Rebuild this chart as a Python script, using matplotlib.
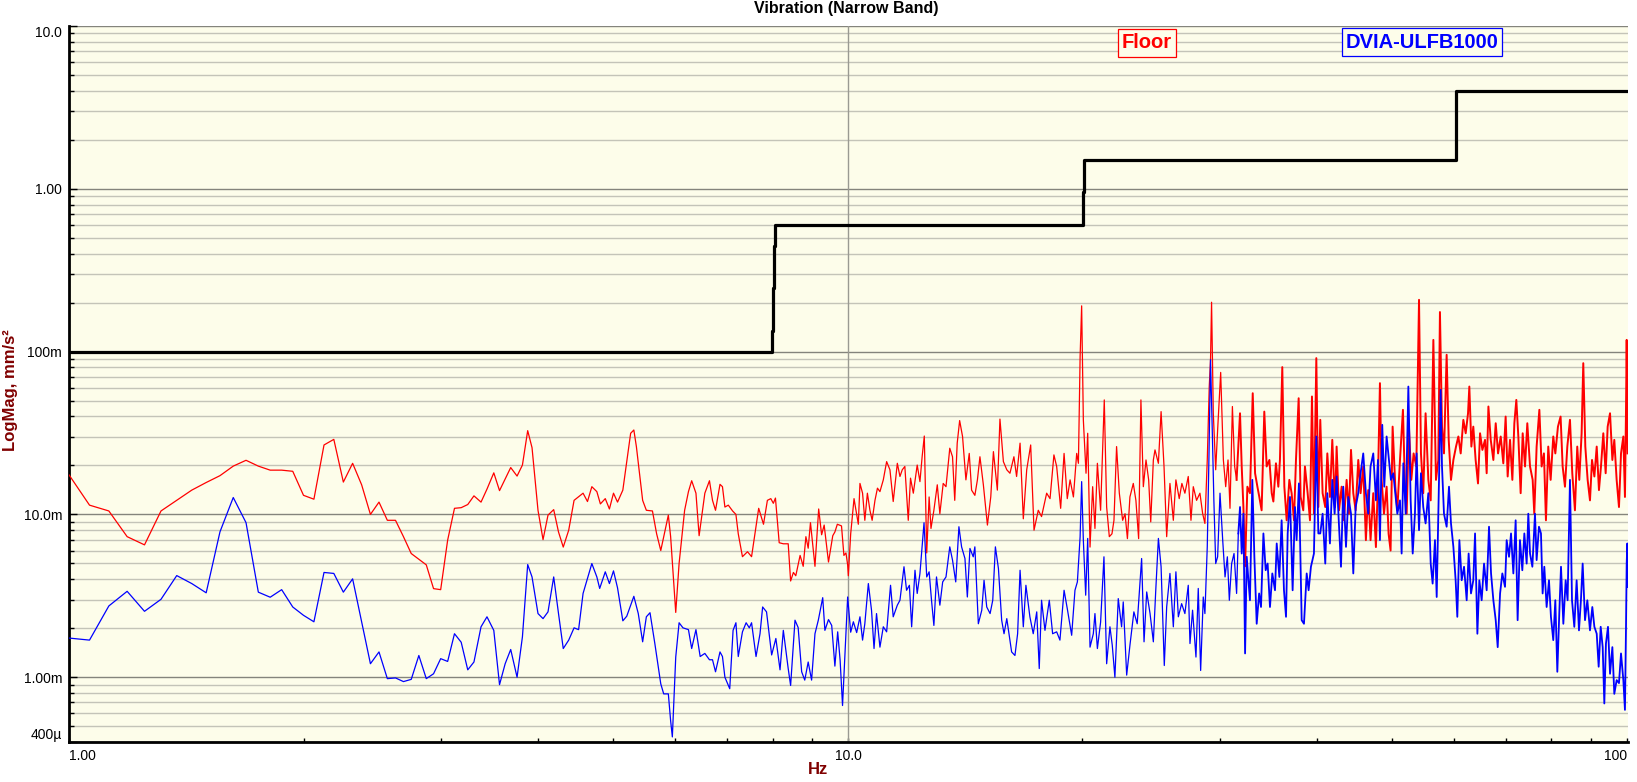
import numpy as np
import matplotlib
matplotlib.use('Agg')
from matplotlib import pyplot as plt
from matplotlib.ticker import FixedLocator, FixedFormatter, LogLocator, NullFormatter

plt.rcParams['font.family'] = ['Liberation Sans', 'DejaVu Sans']

# --- values (Hz, mm/s^2) ---
# Floor, 1..10 Hz
floor_lo = [
    (1.0, 0.0175), (1.0625, 0.0114), (1.125, 0.0105), (1.1875, 0.0073), (1.25, 0.0065),
    (1.3125, 0.0105), (1.375, 0.0122), (1.4375, 0.0141), (1.5, 0.0157), (1.5625, 0.0173),
    (1.625, 0.0198), (1.6875, 0.0215), (1.75, 0.0198), (1.8125, 0.0187), (1.875, 0.0187),
    (1.9375, 0.0184), (2.0, 0.0131), (2.0625, 0.0124), (2.125, 0.0267), (2.1875, 0.0289),
    (2.25, 0.0158), (2.3125, 0.0206), (2.375, 0.0152), (2.4375, 0.0100), (2.5, 0.0119),
    (2.5625, 0.0092), (2.625, 0.0092), (2.6875, 0.0073), (2.75, 0.00575), (2.8125, 0.0053),
    (2.875, 0.0049), (2.9375, 0.0035), (3.0, 0.00345), (3.0625, 0.00695), (3.125, 0.0109),
    (3.1875, 0.0110), (3.25, 0.0115),
    (3.31, 0.0130), (3.38, 0.0119), (3.44, 0.0143), (3.51, 0.0180), (3.57, 0.0140),
    (3.69, 0.0194), (3.76, 0.0172), (3.82, 0.0201), (3.88, 0.0327), (3.93, 0.0257),
    (4.00, 0.0106), (4.06, 0.0070), (4.12, 0.0099), (4.19, 0.0107), (4.25, 0.0078),
    (4.31, 0.0063), (4.38, 0.0080), (4.45, 0.0122), (4.57, 0.0135), (4.63, 0.0120),
    (4.69, 0.0148), (4.76, 0.0138), (4.81, 0.0116), (4.88, 0.0125), (4.94, 0.0108),
    (5.00, 0.0135), (5.06, 0.0119), (5.14, 0.0141), (5.26, 0.0315), (5.31, 0.0330),
    (5.35, 0.0261), (5.45, 0.0122), (5.51, 0.0106), (5.61, 0.0105), (5.68, 0.0076),
    (5.75, 0.0060), (5.88, 0.0099), (5.92, 0.0073), (6.01, 0.0025), (6.07, 0.0050),
    (6.17, 0.0106), (6.24, 0.0138), (6.30, 0.0161), (6.38, 0.0135), (6.44, 0.0074),
    (6.55, 0.0135), (6.64, 0.0161), (6.70, 0.0122), (6.76, 0.0106), (6.85, 0.0153),
    (6.90, 0.0148), (6.95, 0.0111), (7.02, 0.0114), (7.11, 0.0105), (7.18, 0.0100),
    (7.23, 0.0076), (7.32, 0.0055), (7.43, 0.0059), (7.52, 0.0055), (7.68, 0.0109),
    (7.79, 0.0087), (7.88, 0.0122), (7.96, 0.0125), (8.02, 0.0117), (8.07, 0.0126),
    (8.16, 0.0067), (8.26, 0.0066), (8.38, 0.0066), (8.44, 0.0039), (8.51, 0.0044),
    (8.57, 0.0042), (8.68, 0.0056), (8.76, 0.0048), (8.83, 0.0073), (8.89, 0.0062),
    (8.95, 0.0089), (9.07, 0.0048), (9.17, 0.0108), (9.25, 0.0075), (9.32, 0.0086),
    (9.44, 0.0051), (9.56, 0.0074), (9.62, 0.0078), (9.69, 0.0087), (9.81, 0.0085),
    (9.88, 0.0056), (9.94, 0.0058), (9.99, 0.0049), (10.01, 0.0042), (10.08, 0.0076),
    (10.18, 0.0125), (10.31, 0.0087),
]

# Floor, 10..32 Hz
floor_mid = [
    (10.36, 0.0155), (10.44, 0.0135), (10.51, 0.0092), (10.59, 0.0135), (10.67, 0.0106),
    (10.74, 0.0092), (10.83, 0.0122), (10.91, 0.0145), (10.99, 0.0138), (11.10, 0.0163),
    (11.21, 0.0211), (11.32, 0.0188), (11.43, 0.0120), (11.57, 0.0206), (11.66, 0.0171),
    (11.74, 0.0188), (11.83, 0.0197), (11.95, 0.0092), (12.03, 0.0167), (12.13, 0.0135),
    (12.27, 0.0201), (12.37, 0.0159), (12.45, 0.0226), (12.53, 0.0303), (12.62, 0.0058),
    (12.71, 0.0128), (12.78, 0.0082), (12.89, 0.0106), (13.02, 0.0152), (13.12, 0.0101),
    (13.25, 0.0155), (13.36, 0.0148), (13.51, 0.0255), (13.62, 0.0226), (13.71, 0.0122),
    (13.81, 0.0274), (13.91, 0.0377), (14.03, 0.0301), (14.17, 0.0163), (14.31, 0.0237),
    (14.41, 0.0141), (14.55, 0.0131), (14.66, 0.0163), (14.77, 0.0226), (14.92, 0.0152),
    (15.10, 0.0086), (15.25, 0.0128), (15.37, 0.0243), (15.55, 0.0141), (15.67, 0.0385),
    (15.83, 0.0211), (15.99, 0.0188), (16.14, 0.0179), (16.33, 0.0226), (16.46, 0.0171),
    (16.63, 0.0274), (16.79, 0.0094), (16.96, 0.0188), (17.16, 0.0267), (17.33, 0.0080),
    (17.55, 0.0106), (17.72, 0.0097), (17.99, 0.0135), (18.17, 0.0125), (18.38, 0.0232),
    (18.53, 0.0197), (18.75, 0.0109), (18.94, 0.0237), (19.12, 0.0125), (19.28, 0.0163),
    (19.47, 0.0128), (19.66, 0.0237), (19.76, 0.0206), (19.86, 0.0933), (19.95, 0.191),
    (20.05, 0.0381), (20.21, 0.0179), (20.31, 0.0315), (20.45, 0.0063), (20.61, 0.0148),
    (20.75, 0.0082), (20.90, 0.0206), (21.10, 0.0106), (21.33, 0.0505), (21.48, 0.0111),
    (21.65, 0.0073), (21.82, 0.0076), (21.95, 0.0092), (22.12, 0.0261), (22.30, 0.0135),
    (22.52, 0.0092), (22.68, 0.0101), (22.84, 0.0071), (23.01, 0.0128), (23.24, 0.0155),
    (23.42, 0.0122), (23.61, 0.0071), (23.77, 0.0505), (23.94, 0.0148), (24.13, 0.0216),
    (24.32, 0.0163), (24.47, 0.0090), (24.66, 0.0216), (24.78, 0.0249), (25.03, 0.0206),
    (25.23, 0.0428), (25.45, 0.0197), (25.65, 0.0073), (25.90, 0.0155), (26.16, 0.0092),
    (26.36, 0.0163), (26.62, 0.0125), (26.83, 0.0155), (27.07, 0.0135), (27.34, 0.0171),
    (27.56, 0.0092), (27.75, 0.0148), (28.02, 0.0122), (28.30, 0.0135), (28.53, 0.0101),
    (28.72, 0.0088), (28.92, 0.0216), (29.09, 0.0610), (29.20, 0.0891), (29.29, 0.201),
    (29.44, 0.0418), (29.65, 0.0188), (29.82, 0.0330), (30.09, 0.0745), (30.33, 0.0216),
    (30.54, 0.0148), (30.75, 0.0216), (30.93, 0.0109), (31.15, 0.0460), (31.36, 0.0197),
    (31.54, 0.0163),
]

# Floor, 32..100 Hz
floor_hi = [
    (31.86, 0.0418), (32.02, 0.0197), (32.18, 0.0111), (32.34, 0.0048), (32.56, 0.0148),
    (32.81, 0.0135), (33.08, 0.0555), (33.31, 0.0179), (33.54, 0.0148), (33.73, 0.0128),
    (33.96, 0.0106), (34.23, 0.0428), (34.47, 0.0197), (34.75, 0.0216), (34.99, 0.0135),
    (35.16, 0.0120), (35.43, 0.0206), (35.68, 0.0148), (35.85, 0.0216), (36.10, 0.0803),
    (36.32, 0.0148), (36.57, 0.0092), (36.86, 0.0163), (37.11, 0.0135), (37.37, 0.0092),
    (37.59, 0.0216), (37.89, 0.0517), (38.11, 0.0128), (38.41, 0.0106), (38.60, 0.0197),
    (38.91, 0.0135), (39.18, 0.0092), (39.41, 0.0530), (39.64, 0.0101), (39.92, 0.0912),
    (40.16, 0.0111), (40.39, 0.0381), (40.67, 0.0135), (40.99, 0.0111), (41.24, 0.0237),
    (41.56, 0.0128), (41.85, 0.0287), (42.19, 0.0111), (42.39, 0.0261), (42.69, 0.0106),
    (43.02, 0.0148), (43.32, 0.0092), (43.66, 0.0163), (43.96, 0.0101), (44.23, 0.0249),
    (44.53, 0.0135), (44.84, 0.0106), (45.19, 0.0216), (45.50, 0.0135), (45.86, 0.0197),
    (46.22, 0.00695), (46.54, 0.0141), (46.86, 0.00695), (47.24, 0.0135), (47.61, 0.0063),
    (47.90, 0.0163), (48.18, 0.0640), (48.42, 0.0163), (48.76, 0.0101), (49.14, 0.0148),
    (49.43, 0.0076), (49.72, 0.0060), (50.02, 0.0346), (50.42, 0.0148), (50.72, 0.0106),
    (51.12, 0.0216), (51.57, 0.0439), (51.88, 0.0148), (52.14, 0.0101), (52.49, 0.0346),
    (52.86, 0.0163), (53.22, 0.0237), (53.65, 0.0197), (54.08, 0.208), (54.39, 0.0237),
    (54.76, 0.0135), (55.14, 0.0418), (55.59, 0.0163), (55.98, 0.0122), (56.42, 0.118),
    (56.86, 0.0163), (57.25, 0.0216), (57.53, 0.175), (57.88, 0.0346), (58.22, 0.0237),
    (58.68, 0.0956), (59.04, 0.0287), (59.44, 0.0163), (59.86, 0.0216), (60.33, 0.0261),
    (60.75, 0.0301), (61.17, 0.0237), (61.65, 0.0381), (62.08, 0.0315), (62.51, 0.0418),
    (62.75, 0.0610), (63.13, 0.0261), (63.49, 0.0346), (63.93, 0.0216), (64.38, 0.0155),
    (64.77, 0.0315), (65.22, 0.0249), (65.73, 0.0287), (66.05, 0.0179), (66.39, 0.0460),
    (66.85, 0.0287), (67.37, 0.0216), (67.84, 0.0363), (68.31, 0.0237), (68.85, 0.0301),
    (69.38, 0.0206), (69.86, 0.0399), (70.28, 0.0171), (70.77, 0.0287), (71.26, 0.0163),
    (71.68, 0.0363), (72.10, 0.0505), (72.53, 0.0301), (73.03, 0.0135), (73.47, 0.0315),
    (73.98, 0.0197), (74.48, 0.0363), (75.08, 0.0197), (75.67, 0.0163), (76.03, 0.0101),
    (76.56, 0.0261), (77.18, 0.0439), (77.70, 0.0197), (78.23, 0.0237), (78.70, 0.0092),
    (79.24, 0.0261), (79.80, 0.0163), (80.42, 0.0301), (80.91, 0.0237), (81.54, 0.0346),
    (82.18, 0.0399), (82.68, 0.0197), (83.25, 0.0148), (83.83, 0.0261), (84.49, 0.0381),
    (85.07, 0.0179), (85.74, 0.0106), (86.33, 0.0261), (86.85, 0.0163), (87.45, 0.0315),
    (87.88, 0.0849), (88.41, 0.0261), (89.02, 0.0163), (89.64, 0.0122), (90.18, 0.0216),
    (90.81, 0.0171), (91.44, 0.0261), (92.05, 0.0141), (92.60, 0.0197), (93.24, 0.0315),
    (93.89, 0.0179), (94.45, 0.0346), (95.11, 0.0418), (95.77, 0.0216), (96.32, 0.0287),
    (96.99, 0.0163), (97.66, 0.0111), (98.25, 0.0237), (98.93, 0.0301), (99.40, 0.0128),
    (99.70, 0.0418), (99.91, 0.118), (100.2, 0.0237),
]

# DVIA-ULFB1000, 1..10 Hz
dvia_lo = [
    (1.0, 0.00174), (1.0625, 0.00169), (1.125, 0.00274), (1.1875, 0.00337), (1.25, 0.00254),
    (1.3125, 0.00301), (1.375, 0.00421), (1.4375, 0.00376), (1.5, 0.00330), (1.5625, 0.00782),
    (1.625, 0.0127), (1.6875, 0.0089), (1.75, 0.00333), (1.8125, 0.00310), (1.875, 0.00345),
    (1.9375, 0.00270), (2.0, 0.00240), (2.0625, 0.00219), (2.125, 0.00440), (2.1875, 0.00434),
    (2.25, 0.00333), (2.3125, 0.00402), (2.375, 0.00219), (2.4375, 0.00121), (2.5, 0.00143),
    (2.5625, 0.00098), (2.625, 0.00099), (2.6875, 0.00094), (2.75, 0.00097), (2.8125, 0.00136),
    (2.875, 0.00098), (2.9375, 0.00105), (3.0, 0.00130), (3.0625, 0.00125), (3.125, 0.00185),
    (3.1875, 0.00164), (3.25, 0.00111),
    (3.31, 0.00124), (3.38, 0.00204), (3.44, 0.00235), (3.51, 0.00194), (3.57, 0.00090),
    (3.63, 0.00121), (3.69, 0.00148), (3.76, 0.00100), (3.82, 0.00177), (3.88, 0.00492),
    (3.93, 0.00413), (4.00, 0.00246), (4.06, 0.00229), (4.12, 0.00252), (4.19, 0.00413),
    (4.25, 0.00246), (4.31, 0.00150), (4.38, 0.00169), (4.45, 0.00201), (4.51, 0.00196),
    (4.57, 0.00327), (4.69, 0.00499), (4.76, 0.00413), (4.80, 0.00351), (4.88, 0.00444),
    (4.94, 0.00376), (5.00, 0.00450), (5.06, 0.00354), (5.14, 0.00222), (5.20, 0.00237),
    (5.25, 0.00270), (5.31, 0.00314), (5.38, 0.00246), (5.45, 0.00165), (5.51, 0.00235),
    (5.57, 0.00249), (5.65, 0.00161), (5.75, 0.00091), (5.80, 0.00079), (5.88, 0.00079),
    (5.92, 0.00054), (5.95, 0.00043), (6.01, 0.00133), (6.07, 0.00216), (6.14, 0.00201),
    (6.24, 0.00196), (6.30, 0.00150), (6.38, 0.00196), (6.46, 0.00134), (6.55, 0.00140),
    (6.64, 0.00128), (6.70, 0.00128), (6.76, 0.00108), (6.85, 0.00143), (6.90, 0.00134),
    (6.95, 0.00100), (7.05, 0.00085), (7.12, 0.00194), (7.18, 0.00216), (7.23, 0.00134),
    (7.32, 0.00190), (7.40, 0.00216), (7.47, 0.00201), (7.52, 0.00216), (7.62, 0.00134),
    (7.71, 0.00185), (7.77, 0.00270), (7.86, 0.00252), (7.98, 0.00137), (8.08, 0.00173),
    (8.18, 0.00111), (8.26, 0.00194), (8.38, 0.00113), (8.44, 0.00089), (8.55, 0.00224),
    (8.63, 0.00202), (8.72, 0.00108), (8.80, 0.00096), (8.89, 0.00124), (8.98, 0.00096),
    (9.07, 0.00185), (9.16, 0.00224), (9.28, 0.00308), (9.34, 0.00194), (9.44, 0.00226),
    (9.53, 0.00208), (9.62, 0.00117), (9.70, 0.00190), (9.77, 0.00127), (9.84, 0.00067),
    (9.91, 0.00137), (9.99, 0.00311), (10.08, 0.00189), (10.16, 0.00219), (10.26, 0.00188),
]

# DVIA-ULFB1000, 10..32 Hz
dvia_mid = [
    (10.36, 0.00235), (10.44, 0.00169), (10.51, 0.00213), (10.62, 0.00376), (10.72, 0.00258),
    (10.80, 0.00150), (10.88, 0.00246), (10.99, 0.00153), (11.10, 0.00204), (11.21, 0.00190),
    (11.34, 0.00367), (11.43, 0.00235), (11.57, 0.00277), (11.66, 0.00297), (11.80, 0.00477),
    (11.89, 0.00342), (11.99, 0.00367), (12.07, 0.00204), (12.19, 0.00454), (12.27, 0.00327),
    (12.37, 0.00434), (12.52, 0.00889), (12.62, 0.00413), (12.71, 0.00444), (12.80, 0.00297),
    (12.89, 0.00208), (12.99, 0.00413), (13.12, 0.00277), (13.23, 0.00385), (13.36, 0.00413),
    (13.51, 0.00632), (13.62, 0.00524), (13.75, 0.00385), (13.88, 0.00840), (13.99, 0.00632),
    (14.13, 0.00536), (14.23, 0.00311), (14.34, 0.00618), (14.48, 0.00549), (14.55, 0.00632),
    (14.70, 0.00213), (14.85, 0.00258), (14.95, 0.00394), (15.07, 0.00270), (15.22, 0.00246),
    (15.34, 0.00297), (15.46, 0.00632), (15.60, 0.00465), (15.75, 0.00224), (15.86, 0.00185),
    (15.99, 0.00229), (16.22, 0.00143), (16.38, 0.00136), (16.51, 0.00185), (16.63, 0.00454),
    (16.79, 0.00204), (16.92, 0.00367), (17.12, 0.00235), (17.29, 0.00185), (17.47, 0.00252),
    (17.60, 0.00113), (17.72, 0.00297), (17.90, 0.00194), (18.13, 0.00297), (18.31, 0.00185),
    (18.53, 0.00190), (18.71, 0.00169), (18.94, 0.00342), (19.12, 0.00264), (19.37, 0.00181),
    (19.56, 0.00342), (19.70, 0.00385), (19.86, 0.00729), (19.95, 0.0159), (20.05, 0.00695),
    (20.19, 0.00319), (20.31, 0.00712), (20.45, 0.00153), (20.65, 0.00185), (20.75, 0.00246),
    (20.90, 0.00150), (21.10, 0.00218), (21.31, 0.00549), (21.48, 0.00121), (21.69, 0.00204),
    (21.84, 0.00157), (22.01, 0.00100), (22.23, 0.00304), (22.45, 0.00204), (22.56, 0.00290),
    (22.79, 0.00103), (23.01, 0.00157), (23.28, 0.00252), (23.51, 0.00213), (23.82, 0.00536),
    (23.99, 0.00165), (24.18, 0.00334), (24.42, 0.00246), (24.66, 0.00165), (24.83, 0.00334),
    (25.03, 0.00712), (25.23, 0.00477), (25.47, 0.00118), (25.65, 0.00270), (25.90, 0.00434),
    (26.16, 0.00204), (26.36, 0.00444), (26.55, 0.00235), (26.81, 0.00283), (27.07, 0.00246),
    (27.34, 0.00367), (27.48, 0.00161), (27.69, 0.00258), (27.97, 0.00133), (28.16, 0.00351),
    (28.36, 0.00110), (28.58, 0.00311), (28.72, 0.00246), (28.92, 0.00632), (29.06, 0.0216),
    (29.20, 0.0891), (29.35, 0.0330), (29.49, 0.0122), (29.65, 0.00499), (29.82, 0.00549),
    (30.03, 0.0135), (30.27, 0.00695), (30.48, 0.00413), (30.69, 0.00549), (30.87, 0.00297),
    (31.08, 0.00499), (31.30, 0.00575), (31.54, 0.00327), (31.70, 0.00764),
]

# DVIA-ULFB1000, 32..100 Hz
dvia_hi = [
    (31.86, 0.0111), (32.02, 0.00575), (32.18, 0.0101), (32.34, 0.00140), (32.50, 0.00549),
    (32.66, 0.00394), (32.81, 0.00297), (33.04, 0.0163), (33.24, 0.00549), (33.47, 0.00213),
    (33.71, 0.00327), (33.90, 0.00270), (34.14, 0.00764), (34.37, 0.00454), (34.57, 0.00499),
    (34.81, 0.00270), (35.05, 0.00434), (35.33, 0.00342), (35.51, 0.00663), (35.79, 0.00413),
    (36.03, 0.0092), (36.28, 0.00342), (36.50, 0.00235), (36.68, 0.00764), (36.93, 0.0128),
    (37.22, 0.00342), (37.48, 0.0111), (37.66, 0.00695), (37.92, 0.0155), (38.23, 0.00224),
    (38.49, 0.00213), (38.80, 0.00434), (39.02, 0.00342), (39.29, 0.00477), (39.64, 0.00575),
    (39.92, 0.0301), (40.16, 0.00764), (40.39, 0.00764), (40.67, 0.0101), (40.99, 0.00499),
    (41.24, 0.0135), (41.56, 0.00663), (41.85, 0.0163), (42.14, 0.0101), (42.39, 0.0171),
    (42.69, 0.0084), (42.94, 0.00477), (43.23, 0.0148), (43.58, 0.00632), (43.88, 0.0128),
    (44.23, 0.0101), (44.53, 0.00434), (44.84, 0.0111), (45.19, 0.0135), (45.50, 0.0179),
    (45.86, 0.0237), (46.22, 0.0135), (46.54, 0.0101), (46.86, 0.0197), (47.24, 0.0237),
    (47.61, 0.0122), (47.90, 0.0216), (48.18, 0.00695), (48.51, 0.0355), (48.80, 0.0148),
    (49.14, 0.0301), (49.43, 0.0226), (49.77, 0.0163), (50.12, 0.0179), (50.42, 0.0135),
    (50.72, 0.0101), (51.12, 0.0122), (51.37, 0.00575), (51.63, 0.0206), (51.99, 0.0101),
    (52.40, 0.0610), (52.76, 0.0122), (53.08, 0.00575), (53.43, 0.0101), (53.70, 0.0237),
    (54.08, 0.0080), (54.39, 0.0179), (54.76, 0.0111), (55.14, 0.0088), (55.59, 0.0135),
    (55.98, 0.00499), (56.30, 0.00376), (56.69, 0.00695), (56.98, 0.00311), (57.37, 0.0163),
    (57.65, 0.0582), (57.88, 0.0197), (58.22, 0.0101), (58.68, 0.0084), (59.09, 0.0148),
    (59.44, 0.0088), (59.86, 0.00632), (60.26, 0.00394), (60.56, 0.00235), (60.93, 0.00695),
    (61.35, 0.00394), (61.78, 0.00477), (62.26, 0.00297), (62.62, 0.00575), (63.06, 0.00327),
    (63.49, 0.00394), (63.82, 0.00764), (64.26, 0.00185), (64.63, 0.00394), (65.08, 0.00297),
    (65.54, 0.00499), (66.05, 0.00342), (66.51, 0.0084), (66.91, 0.00434), (67.37, 0.00297),
    (67.84, 0.00224), (68.24, 0.00153), (68.72, 0.00327), (69.18, 0.00434), (69.73, 0.00359),
    (70.07, 0.00695), (70.56, 0.00549), (70.98, 0.00764), (71.47, 0.00434), (71.96, 0.0092),
    (72.38, 0.00224), (72.88, 0.00695), (73.39, 0.00454), (73.83, 0.00764), (74.34, 0.00499),
    (74.70, 0.0101), (75.08, 0.00575), (75.60, 0.00477), (76.19, 0.0101), (76.56, 0.00524),
    (77.09, 0.0084), (77.55, 0.00764), (77.93, 0.00327), (78.32, 0.00477), (78.86, 0.00270),
    (79.41, 0.00394), (79.87, 0.00235), (80.42, 0.00169), (80.91, 0.00297), (81.39, 0.00108),
    (81.86, 0.00246), (82.28, 0.00477), (82.85, 0.00213), (83.42, 0.00394), (83.90, 0.00297),
    (84.49, 0.0163), (85.00, 0.00297), (85.58, 0.00204), (86.17, 0.00394), (86.77, 0.00194),
    (87.27, 0.00297), (87.72, 0.00499), (88.33, 0.00224), (88.94, 0.00297), (89.64, 0.00194),
    (90.26, 0.00270), (90.81, 0.00204), (91.44, 0.00185), (91.97, 0.00116), (92.52, 0.00204),
    (93.07, 0.00153), (93.52, 0.00069), (93.97, 0.00161), (94.54, 0.00204), (95.11, 0.00105),
    (95.77, 0.00153), (96.32, 0.00079), (96.99, 0.00096), (97.66, 0.00092), (98.25, 0.00140),
    (98.93, 0.00096), (99.40, 0.00063), (99.70, 0.00194), (99.91, 0.00499), (100.1, 0.00663),
    (100.2, 0.00359),
]

# limit curve (steps-post)
limit_hz = [1.0, 7.99, 8.01, 8.03, 8.06, 20.05, 20.1, 60.3, 100.3]
limit_mag = [0.1, 0.133, 0.246, 0.443, 0.6, 0.954, 1.5, 4.0, 4.0]

x_ticks = [1, 10, 100]
x_labels = ['1.00', '10.0', '100']
y_ticks = [0.0004, 0.001, 0.01, 0.1, 1, 10]
y_labels = ['400\u00b5', '1.00m', '10.0m', '100m', '1.00', '10.0']

W, H = 1637, 782
fig = plt.figure(figsize=(W / 100, H / 100), dpi=100)
ax = fig.add_axes([69 / W, 1 - 742 / H, (1628 - 69) / W, (742 - 26) / H])
ax.set_facecolor('#fdfdea')
ax.set_xscale('log')
ax.set_yscale('log')

floor_a = np.array(floor_lo + floor_mid)
floor_b = np.array(floor_mid[-1:] + floor_hi)
dvia_a = np.array(dvia_lo + dvia_mid)
dvia_b = np.array(dvia_mid[-1:] + dvia_hi)

# dense part of the spectrum drawn a bit heavier, like the original
ax.plot(floor_a[:, 0], floor_a[:, 1], color='#ff0000', lw=0.9, zorder=3)
ax.plot(floor_b[:, 0], floor_b[:, 1], color='#ff0000', lw=1.4, zorder=3)
ax.plot(dvia_a[:, 0], dvia_a[:, 1], color='#0000ff', lw=0.9, zorder=4)
ax.plot(dvia_b[:, 0], dvia_b[:, 1], color='#0000ff', lw=1.3, zorder=4)
ax.plot(limit_hz, limit_mag, color='black', lw=2.3, drawstyle='steps-post', zorder=5)

ax.set_xlim(1, 100.3)
ax.set_ylim(0.0004, 10)

# axes / grid
ax.set_axisbelow(True)
ax.yaxis.set_major_locator(FixedLocator(y_ticks))
ax.yaxis.set_major_formatter(FixedFormatter(y_labels))
ax.yaxis.set_minor_locator(LogLocator(base=10, subs=np.arange(2, 10)))
ax.yaxis.set_minor_formatter(NullFormatter())
ax.xaxis.set_major_locator(FixedLocator(x_ticks))
ax.xaxis.set_major_formatter(FixedFormatter(x_labels))
ax.xaxis.set_minor_locator(LogLocator(base=10, subs=np.arange(2, 10)))
ax.xaxis.set_minor_formatter(NullFormatter())

ax.grid(True, which='major', axis='y', color='#84847c', lw=1.0)
ax.grid(True, which='minor', axis='y', color='#c4c4b8', lw=1.0)
ax.axvline(10, color='#9a9a92', lw=1.0, zorder=1)

for s in ['top', 'right']:
    ax.spines[s].set_visible(False)
for s in ['left', 'bottom']:
    ax.spines[s].set_linewidth(2.0)

ax.tick_params(axis='y', which='major', direction='in', length=6, width=1, labelsize=10, pad=5)
ax.tick_params(axis='y', which='minor', direction='in', length=3.5, width=1)
ax.tick_params(axis='x', which='major', direction='in', length=3, width=1, labelsize=10, pad=5)
ax.tick_params(axis='x', which='minor', direction='in', length=3, width=1)

xt = ax.xaxis.get_major_ticks()
xt[0].label1.set_horizontalalignment('left')
xt[-1].label1.set_horizontalalignment('right')
yt = ax.yaxis.get_major_ticks()
yt[0].label1.set_verticalalignment('bottom')
yt[-1].label1.set_verticalalignment('top')

# titles
fig.text(846 / W, 1 - 9 / H, 'Vibration (Narrow Band)', ha='center', va='center',
         fontsize=11.5, weight='bold')
fig.text(818 / W, 1 - 770 / H, 'Hz', ha='center', va='center', fontsize=12,
         weight='bold', color='#800000')
fig.text(11 / W, 1 - 390 / H, 'LogMag, mm/s\u00b2', ha='center', va='center', rotation=90,
         fontsize=12, weight='bold', color='#800000')

# legend boxes
fig.text(1147 / W, 1 - 43 / H, 'Floor', ha='center', va='center', fontsize=14.5,
         weight='bold', color='#ff0000',
         bbox=dict(boxstyle='square,pad=0.2', fc='#fdfdea', ec='#ff0000', lw=0.9))
fig.text(1422 / W, 1 - 42 / H, 'DVIA-ULFB1000', ha='center', va='center', fontsize=14.5,
         weight='bold', color='#0000ff',
         bbox=dict(boxstyle='square,pad=0.2', fc='#fdfdea', ec='#0000ff', lw=0.9))

fig.savefig('out.png', dpi=100)
